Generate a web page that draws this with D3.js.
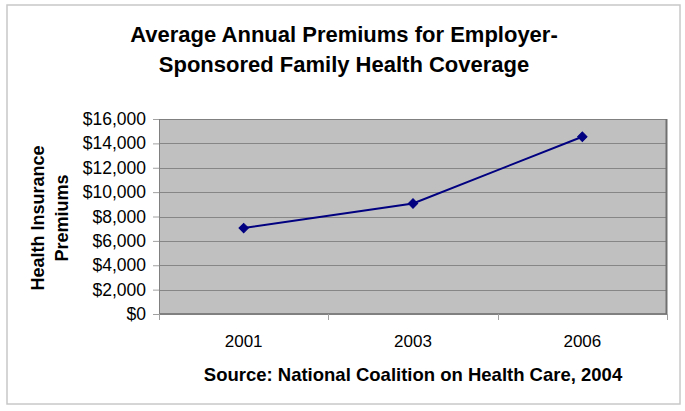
<!DOCTYPE html>
<html>
<head>
<meta charset="utf-8">
<script src="https://cdn.jsdelivr.net/npm/d3@7"></script>
<style>
  html, body { margin: 0; padding: 0; background: #fff; }
  svg { display: block; font-family: Arial, "Liberation Sans", sans-serif; }
</style>
</head>
<body>
<svg id="chart" width="685" height="411"></svg>
<script>
const categories = ["2001", "2003", "2006"];
const premiums = [7050, 9068, 14545];
const yTicks = [0, 2000, 4000, 6000, 8000, 10000, 12000, 14000, 16000];
const titleLines = ["Average Annual Premiums for Employer-", "Sponsored Family Health Coverage"];
const yTitleLines = ["Health Insurance", "Premiums"];
const sourceText = "Source: National Coalition on Health Care, 2004";

const svg = d3.select("#chart");
const plot = { left: 159, right: 667, top: 119, bottom: 314 };

// outer border
svg.append("rect").attr("x", 7).attr("y", 5).attr("width", 673).attr("height", 399)
  .attr("fill", "#fff").attr("stroke", "#c8c8c8").attr("stroke-width", 1.5);

const x = d3.scaleBand().domain(categories).range([plot.left, plot.right]);
const y = d3.scaleLinear().domain([0, 16000]).range([plot.bottom, plot.top]);

// plot background
svg.append("rect").attr("x", plot.left).attr("y", plot.top)
  .attr("width", plot.right - plot.left).attr("height", plot.bottom - plot.top)
  .attr("fill", "#c0c0c0");

// gridlines
svg.append("g").selectAll("line").data(yTicks.filter(d => d > 0 && d < 16000)).join("line")
  .attr("x1", plot.left).attr("x2", plot.right)
  .attr("y1", d => Math.round(y(d)) + 0.5).attr("y2", d => Math.round(y(d)) + 0.5)
  .attr("stroke", "#868686").attr("stroke-width", 1);

// plot border
svg.append("rect").attr("x", plot.left + 0.5).attr("y", plot.top + 0.5)
  .attr("width", plot.right - plot.left - 1).attr("height", plot.bottom - plot.top - 1)
  .attr("fill", "none").attr("stroke", "#808080").attr("stroke-width", 1);
svg.append("line").attr("x1", plot.right - 0.5).attr("x2", plot.right - 0.5)
  .attr("y1", plot.top).attr("y2", plot.bottom)
  .attr("stroke", "#707070").attr("stroke-width", 2);

// y axis
const yAxis = d3.axisLeft(y).tickValues(yTicks).tickSize(6).tickPadding(7)
  .tickFormat(d => "$" + d3.format(",")(d));
const gy = svg.append("g").attr("transform", `translate(${plot.left},0)`).call(yAxis);
gy.select(".domain").attr("stroke", "#808080");
gy.selectAll(".tick line").attr("stroke", "#a0a0a0");
gy.selectAll(".tick text").attr("font-size", 17.5).attr("fill", "#000")
  .attr("font-family", "Arial, 'Liberation Sans', sans-serif");

// x axis
const xAxis = d3.axisBottom(x).tickSize(0).tickPadding(21);
const gx = svg.append("g").attr("transform", `translate(0,${plot.bottom})`).call(xAxis);
gx.select(".domain").attr("stroke", "#808080");
gx.selectAll(".tick text").attr("font-size", 17).attr("fill", "#000")
  .attr("font-family", "Arial, 'Liberation Sans', sans-serif");
// category boundary ticks
const bounds = categories.map(c => x(c)).concat([x(categories[categories.length - 1]) + x.bandwidth()]);
gx.append("g").selectAll("line").data(bounds).join("line")
  .attr("x1", d => Math.round(d) + 0.5).attr("x2", d => Math.round(d) + 0.5)
  .attr("y1", 0).attr("y2", 6).attr("stroke", "#a0a0a0");

// line
const line = d3.line().x((d, i) => x(categories[i]) + x.bandwidth() / 2).y(d => y(d));
svg.append("path").datum(premiums).attr("d", line)
  .attr("fill", "none").attr("stroke", "#000080").attr("stroke-width", 2);

// markers
const diamond = d3.symbol().type(d3.symbolSquare).size(44);
svg.append("g").selectAll("path").data(premiums).join("path")
  .attr("d", diamond)
  .attr("transform", (d, i) => `translate(${x(categories[i]) + x.bandwidth() / 2},${y(d)}) rotate(45)`)
  .attr("fill", "#000080").attr("stroke", "#000080").attr("stroke-width", 1);

// title
svg.append("g").selectAll("text").data(titleLines).join("text")
  .attr("x", 344).attr("y", (d, i) => 42 + i * 29.5)
  .attr("text-anchor", "middle").attr("font-size", 22).attr("font-weight", "bold")
  .attr("fill", "#000").text(d => d);

// y title
svg.append("g").selectAll("text").data(yTitleLines).join("text")
  .attr("transform", (d, i) => `translate(${43.5 + i * 24.5},${218}) rotate(-90)`)
  .attr("text-anchor", "middle").attr("font-size", 18).attr("font-weight", "bold")
  .attr("fill", "#000").text(d => d);

// source
svg.append("text").attr("x", (plot.left + plot.right) / 2).attr("y", 381)
  .attr("text-anchor", "middle").attr("font-size", 18.5).attr("font-weight", "bold")
  .attr("fill", "#000").text(sourceText);
</script>
</body>
</html>
